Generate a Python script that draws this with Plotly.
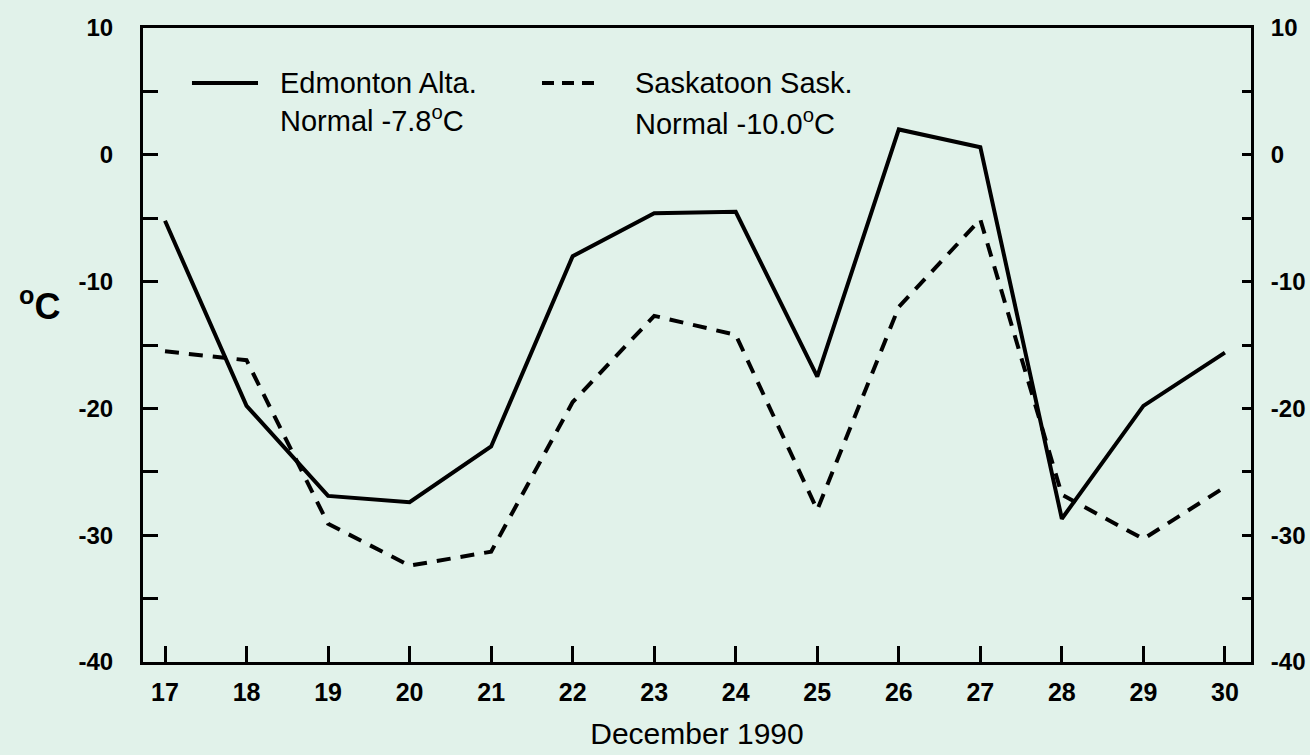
import plotly.graph_objects as go

days = [17, 18, 19, 20, 21, 22, 23, 24, 25, 26, 27, 28, 29, 30]
edmonton = [-5.2, -19.8, -26.9, -27.4, -23.0, -8.0, -4.6, -4.5, -17.5, 2.0, 0.6, -28.7, -19.8, -15.6]
saskatoon = [-15.5, -16.2, -29.1, -32.4, -31.3, -19.5, -12.7, -14.2, -28.0, -12.0, -5.1, -26.8, -30.3, -26.2]
y_ticks = [10, 0, -10, -20, -30, -40]
y_ticktext = ["10", "0", "-10", "-20", "-30", "-40"]
y_minor_ticks = [5, -5, -15, -25, -35]

BG = "#e1f2ea"
FONT = "Liberation Sans, Arial, sans-serif"

fig = go.Figure()
fig.add_trace(go.Scatter(x=days, y=edmonton, mode="lines", name="Edmonton Alta.",
                         line=dict(color="black", width=4), showlegend=False))
fig.add_trace(go.Scatter(x=days, y=saskatoon, mode="lines", name="Saskatoon Sask.",
                         line=dict(color="black", width=4, dash="14px,10px"), showlegend=False))
fig.add_trace(go.Scatter(x=[None], y=[None], yaxis="y2", showlegend=False))

axis_common = dict(showgrid=False, zeroline=False, showline=True, linecolor="black",
                   linewidth=3, ticks="inside", tickcolor="black", tickwidth=3,
                   automargin=False)

fig.update_layout(
    width=1310, height=755,
    paper_bgcolor=BG, plot_bgcolor=BG,
    margin=dict(l=143, r=59, t=28, b=93),
    font=dict(family=FONT, color="black"),
    xaxis=dict(range=[16.73, 30.32], tickvals=days, ticktext=[str(d) for d in days],
               ticklen=16, mirror=True,
               tickfont=dict(size=25, family=FONT, weight="bold"),
               ticklabelstandoff=6,
               title=dict(text="December 1990", font=dict(size=30, family=FONT), standoff=18),
               **axis_common),
    yaxis=dict(range=[-40, 10], tickvals=y_ticks, ticktext=y_ticktext, ticklen=15,
               minor=dict(tickvals=y_minor_ticks, ticks="inside", ticklen=15, tickwidth=3,
                          tickcolor="black", showgrid=False),
               tickfont=dict(size=24, family=FONT, weight="bold"), ticklabelstandoff=22,
               **axis_common),
    yaxis2=dict(range=[-40, 10], tickvals=y_ticks, ticktext=y_ticktext, ticklen=9,
                minor=dict(tickvals=y_minor_ticks, ticks="inside", ticklen=9, tickwidth=3,
                           tickcolor="black", showgrid=False),
                overlaying="y", side="right", anchor="x",
                tickfont=dict(size=24, family=FONT, weight="bold"), ticklabelstandoff=12,
                **axis_common),
)

# y-axis unit label
fig.add_annotation(text="<sup>o</sup>C", xref="paper", yref="paper", x=-0.1137, y=0.565,
                   showarrow=False, font=dict(size=36, family=FONT, weight="bold"),
                   xanchor="left", yanchor="middle")

# manual legend
fig.add_shape(type="line", xref="paper", yref="paper", x0=0.0442, x1=0.1038, y0=0.9132, y1=0.9132,
              line=dict(color="black", width=4))
fig.add_shape(type="line", xref="paper", yref="paper", x0=0.3601, x1=0.4124, y0=0.9132, y1=0.9132,
              line=dict(color="black", width=4, dash="12px,8px"))
legend_texts = [
    ("Edmonton Alta.", 0.1218, 0.9132),
    ("Normal -7.8<sup>o</sup>C", 0.1218, 0.8560),
    ("Saskatoon Sask.", 0.4422, 0.9132),
    ("Normal -10.0<sup>o</sup>C", 0.4422, 0.8510),
]
for t, x, y in legend_texts:
    fig.add_annotation(text=t, xref="paper", yref="paper", x=x, y=y, showarrow=False,
                       xanchor="left", yanchor="middle", font=dict(size=29, family=FONT))

fig.write_html("out.html", config={"displayModeBar": False},
               post_script="document.body.style.margin='0px';")
